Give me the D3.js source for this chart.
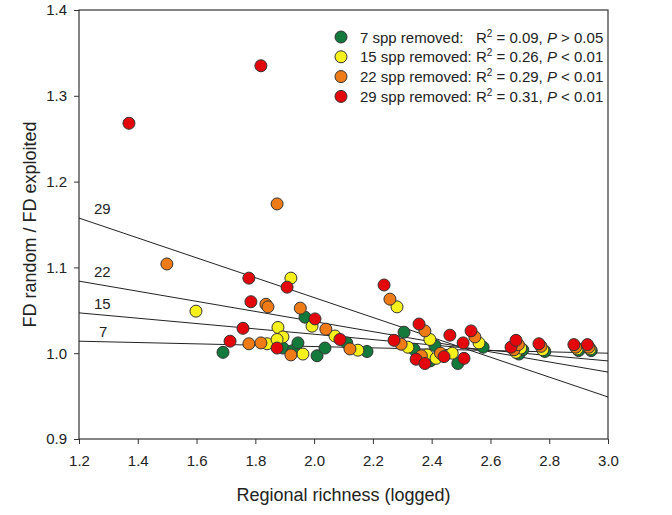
<!DOCTYPE html>
<html>
<head>
<meta charset="utf-8">
<script src="https://cdn.jsdelivr.net/npm/d3@7"></script>
<style>
  body { margin: 0; background: #fff; }
  text { font-family: "Liberation Sans", Arial, sans-serif; fill: #222; }
</style>
</head>
<body>
<svg id="chart" width="672" height="515"></svg>
<script>
// points: [regional richness (log), FD random / FD exploited]
const green7 = [[1.690,1.001],[1.894,1.006],[1.928,1.003],[1.945,1.012],[1.969,1.042],[2.010,0.997],[2.037,1.006],
  [2.111,1.012],[2.180,1.002],[2.306,1.0245],[2.340,1.0045],[2.411,1.009],[2.395,0.991],[2.489,0.988],[2.575,1.007],
  [2.697,0.999],[2.710,1.004],[2.785,1.002],[2.900,1.003],[2.943,1.003]]
const yellow15 = [[1.598,1.049],[1.840,1.011],[1.877,1.030],[1.921,1.0875],[1.993,1.0315],[1.894,1.019],[1.874,1.016],
  [2.071,1.020],[2.149,1.0035],[1.962,0.999],[2.282,1.054],[2.319,1.007],[2.394,1.016],[2.384,0.998],[2.415,0.994],
  [2.470,1.000],[2.561,1.012],[2.687,1.001],[2.703,1.006],[2.778,1.004],[2.895,1.005],[2.939,1.005]]
const orange22 = [[1.499,1.104],[1.874,1.174],[1.836,1.057],[1.843,1.054],[1.778,1.011],[1.819,1.012],[1.953,1.0525],
  [2.040,1.028],[1.921,0.998],[2.122,1.005],[2.258,1.063],[2.296,1.0105],[2.377,1.026],[2.365,0.997],[2.430,1.000],
  [2.547,1.019],[2.680,1.004],[2.695,1.010],[2.772,1.008],[2.890,1.007],[2.935,1.007]]
const red29 = [[1.370,1.268],[1.819,1.335],[1.778,1.0875],[1.785,1.060],[1.758,1.029],[1.714,1.014],[1.908,1.077],
  [2.003,1.040],[1.874,1.006],[2.088,1.016],[2.238,1.0795],[2.272,1.015],[2.357,1.034],[2.347,0.993],[2.377,0.988],
  [2.442,0.996],[2.462,1.021],[2.534,1.026],[2.507,1.012],[2.510,0.994],[2.670,1.007],[2.687,1.015],[2.765,1.011],
  [2.884,1.010],[2.930,1.010]]

// fitted lines: [label, y at x=1.2, y at x=3.0]
const fits = [["29",1.1575,0.949],["22",1.084,0.978],["15",1.047,0.991],["7",1.014,1.000]]

const legendLabels = ["7 spp removed:", "15 spp removed:", "22 spp removed:", "29 spp removed:"]
const legendR2 = ["0.09", "0.26", "0.29", "0.31"]
const legendP = ["> 0.05", "< 0.01", "< 0.01", "< 0.01"]

const xTicks = [1.2,1.4,1.6,1.8,2.0,2.2,2.4,2.6,2.8,3.0]
const yTicks = [0.9,1.0,1.1,1.2,1.3,1.4]

const series = [
  { data: green7, color: "#137a3b" },
  { data: yellow15, color: "#f6f01c" },
  { data: orange22, color: "#ef7b16" },
  { data: red29, color: "#e3060b" }
]

const SVG = d3.select("#chart")
const Margin = { top: 10, left: 79, right: 64, bottom: 76 }
const Width = 672, Height = 515

const xscale = d3.scaleLinear().domain([1.2, 3.0]).range([Margin.left, Width - Margin.right])
const yscale = d3.scaleLinear().domain([0.9, 1.4]).range([Height - Margin.bottom, Margin.top])

const bottom = d3.axisBottom(xscale).tickValues(xTicks).tickSizeInner(5).tickSizeOuter(0).tickPadding(11).tickFormat(d3.format(".1f"))
const left = d3.axisLeft(yscale).tickValues(yTicks).tickSizeInner(5).tickSizeOuter(0).tickPadding(7).tickFormat(d3.format(".1f"))

SVG.append("g")
  .attr("transform", `translate(0, ${yscale(0.9)})`)
  .call(bottom)
  .call(g => g.select(".domain").remove())

SVG.append("g")
  .attr("transform", `translate(${xscale(1.2)}, 0)`)
  .call(left)
  .call(g => g.select(".domain").remove())

SVG.selectAll(".tick line").attr("stroke", "#333")
SVG.selectAll(".tick text").style("font-size", "15px").style("fill", "#222")

// frame
SVG.append("rect")
  .attr("x", xscale(1.2))
  .attr("y", yscale(1.4))
  .attr("width", xscale(3.0) - xscale(1.2))
  .attr("height", yscale(0.9) - yscale(1.4))
  .attr("fill", "none")
  .attr("stroke", "#333")
  .attr("stroke-width", 1.2)

// regression lines
for (const f of fits) {
  SVG.append("line")
    .attr("x1", xscale(1.2)).attr("y1", yscale(f[1]))
    .attr("x2", xscale(3.0)).attr("y2", yscale(f[2]))
    .attr("stroke", "#222")
    .attr("stroke-width", 1)

  SVG.append("text")
    .text(f[0])
    .attr("x", xscale(1.2) + (f[0].length > 1 ? 15 : 20))
    .attr("y", yscale(f[1]) - 4)
    .style("font-size", "15px")
}

// points
for (const s of series) {
  SVG.append("g")
    .selectAll("circle")
    .data(s.data)
    .join("circle")
    .attr("cx", d => xscale(d[0]))
    .attr("cy", d => yscale(d[1]))
    .attr("r", 6)
    .attr("fill", s.color)
    .attr("stroke", "#333")
    .attr("stroke-width", 1)
}

// legend
const legend = SVG.append("g")
for (let i = 0; i < 4; i++) {
  let y = 37 + i * 19.8
  legend.append("circle")
    .attr("cx", 341).attr("cy", y).attr("r", 6)
    .attr("fill", series[i].color)
    .attr("stroke", "#333")

  let t = legend.append("text")
    .attr("x", 360).attr("y", y + 5.5)
    .style("font-size", "15px")
    .attr("xml:space", "preserve")
  t.append("tspan").text(legendLabels[i] + (i == 0 ? "   " : " ") + "R")
  t.append("tspan").text("2").attr("dy", -6).style("font-size", "10px")
  t.append("tspan").text(" = " + legendR2[i] + ", ").attr("dy", 6)
  t.append("tspan").text("P").style("font-style", "italic")
  t.append("tspan").text(" " + legendP[i])
}

// axis titles
SVG.append("text")
  .text("Regional richness (logged)")
  .attr("x", (xscale(1.2) + xscale(3.0)) / 2)
  .attr("y", 501)
  .style("text-anchor", "middle")
  .style("font-size", "18px")

SVG.append("text")
  .text("FD random / FD exploited")
  .attr("transform", `translate(36, ${(yscale(0.9) + yscale(1.4)) / 2}) rotate(-90)`)
  .style("text-anchor", "middle")
  .style("font-size", "18px")
</script>
</body>
</html>
